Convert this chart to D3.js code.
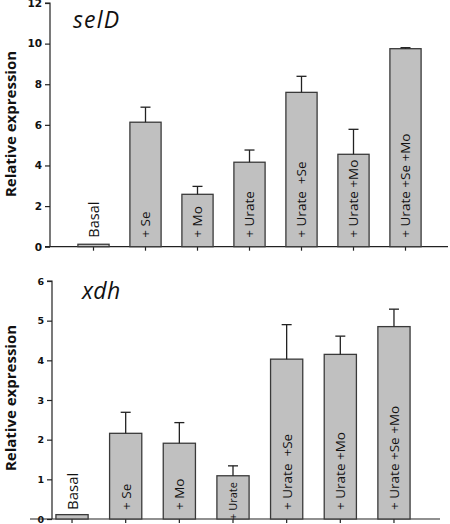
<!DOCTYPE html>
<html><head><meta charset="utf-8">
<script src="https://cdn.jsdelivr.net/npm/d3@7"></script>
<style>body{margin:0;background:#fff}svg{display:block}</style>
</head><body>
<script>
const categories = ["Basal", "+ Se", "+ Mo", "+ Urate", "+ Urate  +Se", "+ Urate +Mo", "+ Urate +Se +Mo"];
const selDValues = [0.12, 6.13, 2.58, 4.16, 7.6, 4.55, 9.75];
const selDErrors = [0, 0.74, 0.39, 0.6, 0.79, 1.23, 0.05];
const xdhValues = [0.11, 2.16, 1.91, 1.09, 4.03, 4.15, 4.85];
const xdhErrors = [0, 0.53, 0.52, 0.25, 0.87, 0.46, 0.44];
const selDTicks = [0, 2, 4, 6, 8, 10, 12];
const xdhTicks = [0, 1, 2, 3, 4, 5, 6];

const W = 450, H = 524;
const svg = d3.select("body").append("svg").attr("width", W).attr("height", H);

function panel(opt) {
  const g = svg.append("g");
  const x = d3.scaleBand().domain(categories).range(opt.xr).paddingInner(0.4).paddingOuter(0.2);
  const y = d3.scaleLinear().domain([0, opt.ymax]).range(opt.yr);
  const data = categories.map((c, i) => ({c, v: opt.values[i], e: opt.errors[i], i}));

  // y axis
  const ya = d3.axisLeft(y).tickValues(opt.ticks).tickSize(5).tickPadding(3).tickFormat(d3.format("d"));
  const yg = g.append("g").attr("transform", `translate(${opt.yx},0)`).call(ya);
  yg.select(".domain").attr("stroke", "#222").attr("stroke-width", 1.2).attr("d", `M-5,${y(opt.ymax)}H0V${y(0)}`);
  yg.selectAll(".tick line").attr("stroke", "#222").attr("stroke-width", 1.2);
  yg.selectAll(".tick text").attr("font-family", "DejaVu Sans").attr("font-weight", "bold")
    .attr("font-size", opt.tickFont).attr("fill", "#111");

  // x axis
  const xa = d3.axisBottom(x).tickSize(4).tickFormat("");
  const xg = g.append("g").attr("transform", `translate(0,${y(0)})`).call(xa);
  xg.select(".domain").attr("d", `M${opt.xline[0]},0H${opt.xline[1]}`).attr("stroke", "#222").attr("stroke-width", 1.2);
  xg.selectAll(".tick line").attr("stroke", "#222").attr("stroke-width", 1.2);

  // bars
  g.selectAll("rect.bar").data(data).join("rect").attr("class", "bar")
    .attr("x", d => x(d.c)).attr("width", x.bandwidth())
    .attr("y", d => y(d.v)).attr("height", d => y(0) - y(d.v))
    .attr("fill", "#c0c0c0").attr("stroke", "#3a3a3a").attr("stroke-width", 1.3);

  // error bars
  const eb = data.filter(d => d.e > 0);
  g.selectAll("line.err").data(eb).join("line").attr("class", "err")
    .attr("x1", d => x(d.c) + x.bandwidth() / 2).attr("x2", d => x(d.c) + x.bandwidth() / 2)
    .attr("y1", d => y(d.v)).attr("y2", d => y(d.v + d.e))
    .attr("stroke", "#222").attr("stroke-width", 1.3);
  g.selectAll("line.cap").data(eb).join("line").attr("class", "cap")
    .attr("x1", d => x(d.c) + x.bandwidth() / 2 - 5).attr("x2", d => x(d.c) + x.bandwidth() / 2 + 5)
    .attr("y1", d => y(d.v + d.e)).attr("y2", d => y(d.v + d.e))
    .attr("stroke", "#222").attr("stroke-width", 1.3);

  // bar labels
  const fs = d => d.i === 0 ? opt.basalFont : (opt.smallIdx === d.i ? 11 : 13.5);
  g.selectAll("text.lbl").data(data).join("text").attr("class", "lbl")
    .attr("transform", d => {
      const cx = x(d.c) + x.bandwidth() / 2 + fs(d) * 0.37;
      const base = opt.smallIdx === d.i ? y(0) + 1 : y(0) - opt.lblOff;
      return `translate(${cx},${base}) rotate(-90)`;
    })
    .attr("text-anchor", "start")
    .attr("font-family", "Open Sans, sans-serif")
    .attr("font-size", fs)
    .attr("fill", "#111")
    .style("white-space", "pre")
    .text(d => d.c);

  // title
  g.append("text").attr("x", opt.titleX).attr("y", opt.titleY)
    .attr("font-family", "Open Sans, sans-serif").attr("font-style", "italic")
    .attr("font-size", 23).attr("letter-spacing", opt.titleSpacing).attr("fill", "#111").text(opt.title);

  // y label
  g.append("text").attr("transform", `translate(${opt.ylabX},${opt.ylabY}) rotate(-90)`)
    .attr("text-anchor", "middle").attr("font-family", "Open Sans, sans-serif")
    .attr("font-weight", "bold").attr("font-size", 15).attr("fill", "#111")
    .text("Relative expression");
}

panel({values: selDValues, errors: selDErrors, ticks: selDTicks, ymax: 12,
  xr: [67.5, 431.5], yr: [246.7, 3], yx: 50, xline: [45, 448], tickFont: 10.5,
  lblOff: 9, smallIdx: -1, basalFont: 14.5, title: "selD", titleSpacing: 1.2, titleX: 73, titleY: 28, ylabX: 16, ylabY: 124});

panel({values: xdhValues, errors: xdhErrors, ticks: xdhTicks, ymax: 6,
  xr: [45.2, 420.8], yr: [519, 281], yx: 52, xline: [30, 440], tickFont: 9.5,
  lblOff: 9, smallIdx: 3, basalFont: 15, title: "xdh", titleSpacing: 0.3, titleX: 82, titleY: 299, ylabX: 16, ylabY: 398});
</script>
</body></html>
